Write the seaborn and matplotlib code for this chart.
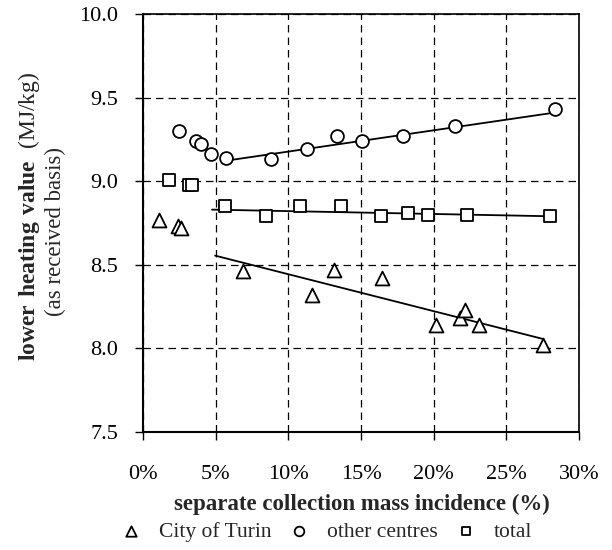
import matplotlib
matplotlib.use("Agg")
import matplotlib.pyplot as plt
import seaborn as sns
import pandas as pd
from matplotlib.ticker import FixedLocator, FuncFormatter

# ---------------- data ----------------
turin_x = [1.08, 2.41, 2.64, 6.88, 11.66, 13.12, 16.47, 20.17, 21.84, 22.16, 23.13, 27.53]
turin_y = [8.77, 8.73, 8.72, 8.46, 8.32, 8.47, 8.42, 8.14, 8.18, 8.23, 8.14, 8.02]

other_x = [2.46, 3.63, 3.97, 4.71, 5.74, 8.79, 11.31, 13.38, 15.07, 17.89, 21.50, 28.33]
other_y = [9.30, 9.24, 9.22, 9.16, 9.14, 9.13, 9.19, 9.27, 9.24, 9.27, 9.33, 9.43]

total_x = [1.77, 3.17, 3.38, 5.67, 8.49, 10.78, 13.65, 16.36, 18.24, 19.61, 22.26, 27.99]
total_y = [9.01, 8.98, 8.98, 8.85, 8.79, 8.85, 8.85, 8.79, 8.81, 8.80, 8.80, 8.79]

# linear trend lines (end points)
turin_fit_x = [4.96, 27.5]
turin_fit_y = [8.555, 8.057]
other_fit_x = [5.9, 28.3]
other_fit_y = [9.125, 9.41]
total_fit_x = [4.75, 28.2]
total_fit_y = [8.83, 8.79]

series_labels = ["City of Turin", "other centres", "total"]
x_ticks = [0, 5, 10, 15, 20, 25, 30]
y_ticks = [7.5, 8.0, 8.5, 9.0, 9.5, 10.0]
x_label = "separate collection mass incidence (%)"
y_label_bold = "lower heating value"
y_label_unit = "(MJ/kg)"
y_label_2 = "(as received basis)"

# ---------------- style ----------------
sns.set_theme(style="white")
plt.rcParams["font.family"] = ["Liberation Serif", "DejaVu Serif"]
plt.rcParams["mathtext.fontset"] = "custom"
plt.rcParams["mathtext.rm"] = "Liberation Serif"
plt.rcParams["mathtext.bf"] = "Liberation Serif:bold"

W, H = 612, 550
fig = plt.figure(figsize=(W / 100, H / 100), dpi=100)
ax = fig.add_axes([143 / W, 1 - 432 / H, 436 / W, 418 / H])

df_t = pd.DataFrame({"x": turin_x, "y": turin_y})
df_o = pd.DataFrame({"x": other_x, "y": other_y})
df_s = pd.DataFrame({"x": total_x, "y": total_y})

for xs, ys in [(turin_fit_x, turin_fit_y), (other_fit_x, other_fit_y), (total_fit_x, total_fit_y)]:
    sns.lineplot(x=xs, y=ys, ax=ax, color="black", linewidth=1.3, legend=False, zorder=3)

mk = dict(facecolor="white", edgecolor="black", linewidth=1.3, zorder=4)
sns.scatterplot(data=df_t, x="x", y="y", marker="^", s=100, label=series_labels[0], ax=ax, **mk)
sns.scatterplot(data=df_o, x="x", y="y", marker="o", s=85, label=series_labels[1], ax=ax, **mk)
sns.scatterplot(data=df_s, x="x", y="y", marker="s", s=70, label=series_labels[2], ax=ax, **mk)

ax.set_xlim(0, 30)
ax.set_ylim(7.5, 10.0)
ax.xaxis.set_major_locator(FixedLocator(x_ticks))
ax.yaxis.set_major_locator(FixedLocator(y_ticks))
ax.xaxis.set_major_formatter(FuncFormatter(lambda v, p: f"{v:.0f}%"))
ax.yaxis.set_major_formatter(FuncFormatter(lambda v, p: f"{v:.1f}"))
ax.tick_params(axis="both", which="major", direction="out", length=6, width=1.0,
               color="black", labelsize=16, labelcolor="black",
               bottom=True, left=True)
ax.tick_params(axis="x", pad=18)
ax.tick_params(axis="y", pad=12)
ax.set_xlabel("")
ax.set_ylabel("")

ax.grid(True, color="black", linestyle=(0, (6, 4)), linewidth=0.9)
for side in ["left", "bottom", "top", "right"]:
    ax.spines[side].set_visible(True)
    ax.spines[side].set_color("black")
    ax.spines[side].set_linewidth(1.5 if side in ("left", "bottom") else 1.2)

# axis titles
fig.text(362 / W, 1 - 504 / H, x_label, ha="center", va="center",
         fontsize=16.5, fontweight="bold")
fig.text(29 / W, 1 - 216 / H,
         r"$\mathbf{" + y_label_bold.replace(" ", r"\ ") + r"}$  " + y_label_unit,
         rotation=90, ha="center", va="center", fontsize=17)
fig.text(55 / W, 1 - 232 / H, y_label_2, rotation=90, ha="center", va="center",
         fontsize=16.5)

ax.legend(loc="center", bbox_to_anchor=(326 / W, 1 - 532 / H),
          bbox_transform=fig.transFigure, ncol=3, frameon=False,
          fontsize=15.5, markerscale=0.75, handletextpad=0.8,
          columnspacing=0.8, handlelength=1.0, borderaxespad=0)

fig.savefig("out.png", dpi=100)
